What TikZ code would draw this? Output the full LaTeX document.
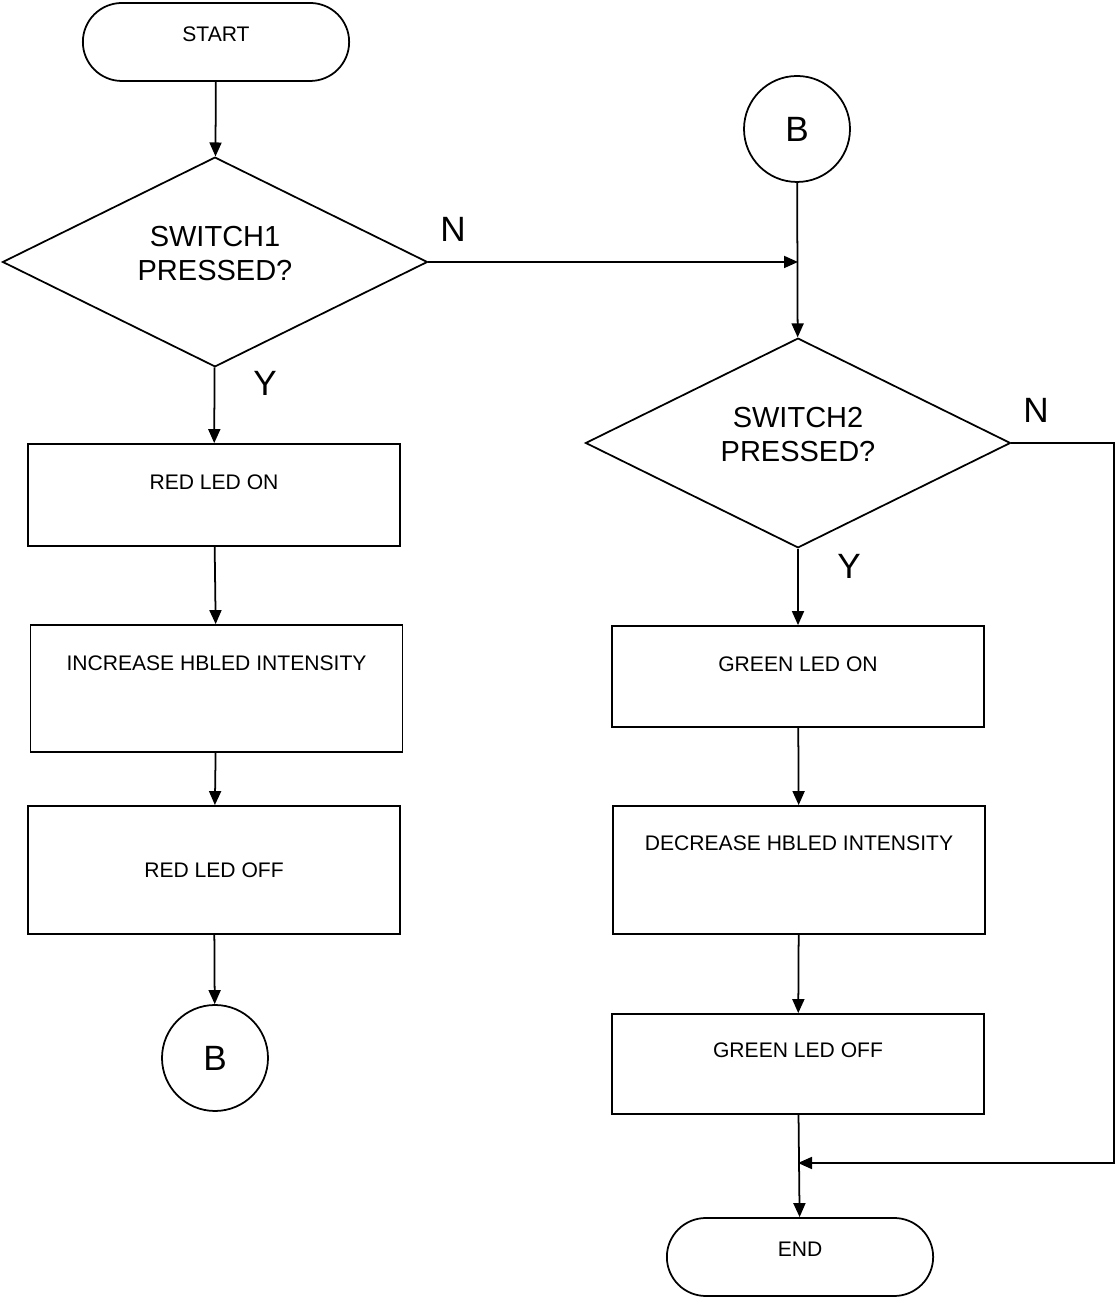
\documentclass[tikz,border=0pt]{standalone}
\usepackage{fontspec}
\setmainfont{Liberation Sans}
\usepackage{tikz}
\usetikzlibrary{arrows.meta,shapes.geometric,shapes.misc}

\begin{document}
\begin{tikzpicture}[
    line width=1pt,
    terminal/.style={draw,rounded rectangle,minimum width=5.56cm,minimum height=1.56cm,font=\fontsize{12}{14}\selectfont,text height=0.3cm},
    decision/.style={draw,diamond,minimum width=8.5cm,minimum height=4.12cm,align=center,inner sep=0pt,font=\fontsize{16.5}{19.5}\selectfont,text height=0.92cm,text depth=0.18cm},
    process/.style={draw,rectangle,minimum width=7.44cm,font=\fontsize{12}{14}\selectfont,text height=0.3cm},
    connector/.style={draw,circle,minimum size=2.12cm,inner sep=0pt,font=\fontsize{20}{24}\selectfont},
    answer/.style={font=\fontsize{20}{24}\selectfont},
    arr/.style={-{Triangle[length=0.28cm,width=0.24cm]}}
  ]
        % \draw[help lines,xstep=1,ystep=1] (0,0) grid (22,26);
        \useasboundingbox (0,0) rectangle (22.32,25.96);

        % left column
        \node[terminal,text depth=0.3cm] (start) at (4.32,25.12) {START};
        \node[decision] (sw1) at (4.30,20.72) {SWITCH1\\PRESSED?};
        \node[process,minimum height=2.04cm,text depth=0.52cm] (redon) at (4.28,16.06) {RED LED ON};
        \node[process,minimum height=2.54cm,text depth=1.0cm] (incr) at (4.33,12.19) {INCREASE HBLED INTENSITY};
        \node[process,minimum height=2.56cm] (redoff) at (4.28,8.56) {RED LED OFF};
        \node[connector] (bout) at (4.30,4.80) {B};

        % right column
        \node[connector] (bin) at (15.94,23.38) {B};
        \node[decision] (sw2) at (15.96,17.10) {SWITCH2\\PRESSED?};
        \node[process,minimum height=2.02cm,text depth=0.50cm] (greenon) at (15.96,12.43) {GREEN LED ON};
        \node[process,minimum height=2.56cm,text depth=1.08cm] (decr) at (15.98,8.56) {DECREASE HBLED INTENSITY};
        \node[process,minimum height=2.0cm,text depth=0.56cm] (greenoff) at (15.96,4.68) {GREEN LED OFF};
        \node[terminal,text depth=0.3cm] (stop) at (16.0,0.82) {END};

        \coordinate (join) at (15.96,20.72);
        \coordinate (corner) at (22.28,2.70);
        \coordinate (merge) at (15.96,2.70);

        % answers
        \node[answer] (n1) at (9.06,21.38) {N};
        \node[answer] (y1) at (5.30,18.30) {Y};
        \node[answer] (n2) at (20.72,17.76) {N};
        \node[answer] (y2) at (16.98,14.64) {Y};

        % start to switch1
        \draw[arr] (start) -- (sw1);

        % switch1 not pressed
        \draw[arr] (sw1.east) -- (join);

        % switch1 pressed
        \draw[arr] (sw1) -- (redon);
        \draw[arr] (redon) -- (incr);
        \draw[arr] (incr) -- (redoff);
        \draw[arr] (redoff) -- (bout);

        % B to switch2
        \draw[arr] (bin) -- (sw2);

        % switch2 pressed
        \draw[arr] (sw2) -- (greenon);
        \draw[arr] (greenon) -- (decr);
        \draw[arr] (decr) -- (greenoff);
        \draw[arr] (greenoff) -- (stop);

        % switch2 not pressed
        \draw[arr] (sw2.east) -| (corner) -- (merge);

      \end{tikzpicture}
\end{document}
